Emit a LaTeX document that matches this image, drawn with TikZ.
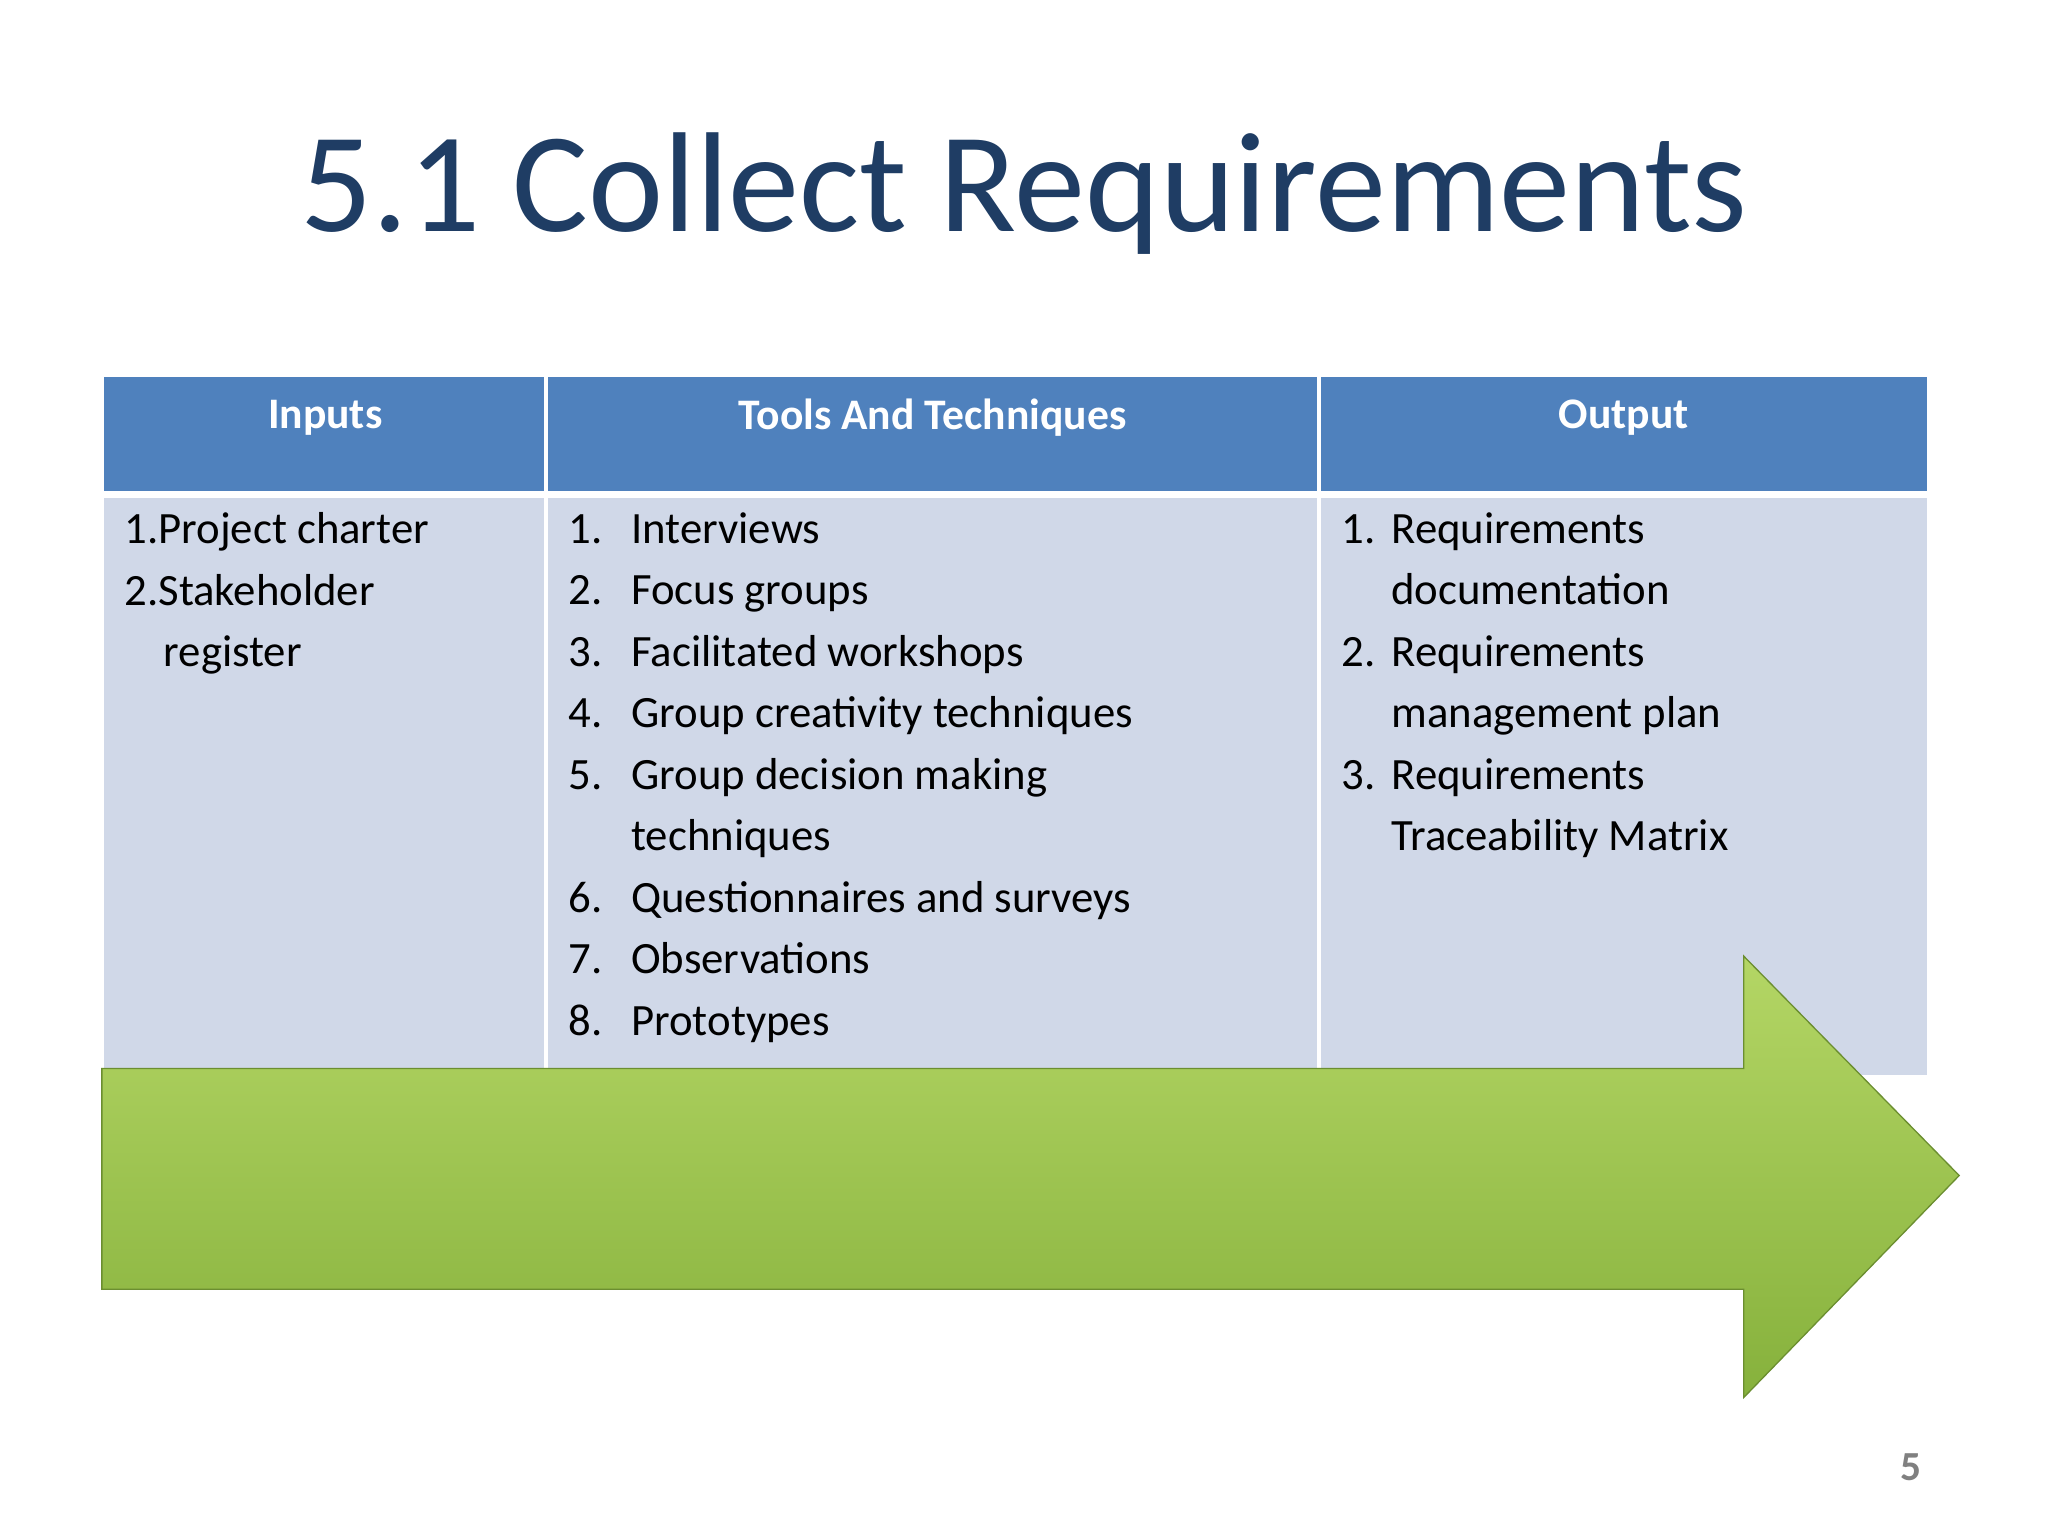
\documentclass[tikz,border=0pt]{standalone}
\usepackage{fontspec}
\setmainfont{Carlito}
\newlength{\px}\setlength{\px}{0.02cm}
\definecolor{hdr}{HTML}{4F81BD}
\definecolor{bodyc}{HTML}{D0D8E8}
\definecolor{titlec}{HTML}{1F3D64}
\definecolor{gtop}{HTML}{B4D665}
\definecolor{gbot}{HTML}{86B13C}
\newcommand{\numA}[1]{\makebox[48\px][l]{#1}}
\newcommand{\numB}[1]{\makebox[38\px][l]{#1}}
\begin{document}
\begin{tikzpicture}[x=0.02cm,y=-0.02cm,
  cell/.style={anchor=north west,align=left,inner sep=0pt,font=\fontsize{19.5pt}{26.8pt}\selectfont,text=black},
  head/.style={text=white,font=\bfseries\fontsize{19pt}{23pt}\selectfont}]
\useasboundingbox (0,0) rectangle (1568,1176);
\fill[white] (0,0) rectangle (1568,1176);
\node[text=titlec,font=\fontsize{62pt}{70pt}\selectfont] (title) at (784,148) {5.1 Collect Requirements};
\fill[hdr] (80,289) rectangle (1475,376);
\fill[bodyc] (80,381) rectangle (1475,823);
\draw[white,line width=3\px] (418,289) -- (418,823) (1010,289) -- (1010,823) (80,378.5) -- (1475,378.5);
\node[head] (h1) at (249,320) {Inputs};
\node[head] (h2) at (714,320) {Tools And Techniques};
\node[head] (h3) at (1243,320) {Output};
\node[cell] (c1) at (95,392) {1.Project charter\\2.Stakeholder\\\hspace*{30\px}register};
\node[cell] (c2) at (435,392) {\numA{1.}Interviews\\\numA{2.}Focus groups\\\numA{3.}Facilitated workshops\\\numA{4.}Group creativity techniques\\\numA{5.}Group decision making\\\numA{}techniques\\\numA{6.}Questionnaires and surveys\\\numA{7.}Observations\\\numA{8.}Prototypes};
\node[cell] (c3) at (1027,392) {\numB{1.}Requirements\\\numB{}documentation\\\numB{2.}Requirements\\\numB{}management plan\\\numB{3.}Requirements\\\numB{}Traceability Matrix};
\shade[top color=gtop,bottom color=gbot,draw=gbot!80!black,line width=1\px]
  (78,818) -- (1335,818) -- (1335,732) -- (1500,900) -- (1335,1070) -- (1335,987) -- (78,987) -- cycle;
\node[text=gray,font=\bfseries\fontsize{18pt}{20pt}\selectfont] (pg) at (1463,1123) {5};
\end{tikzpicture}
\end{document}
